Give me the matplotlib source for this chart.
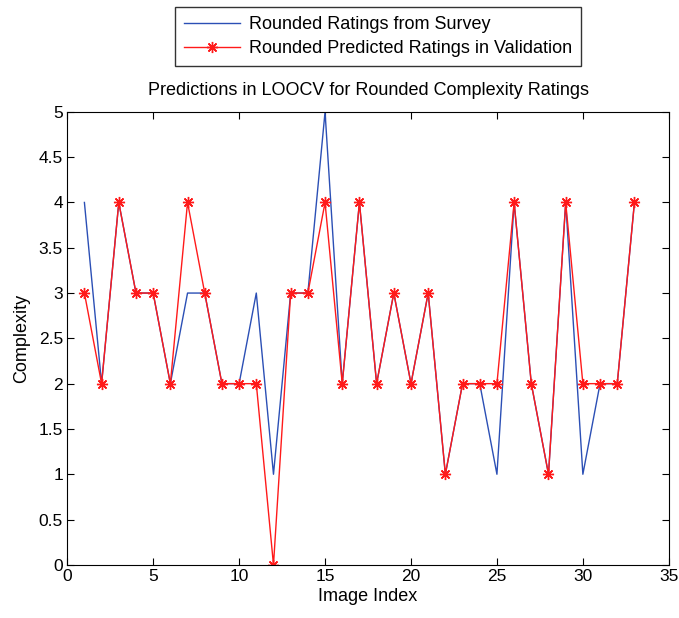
import matplotlib
matplotlib.use('Agg')
import matplotlib.pyplot as plt

plt.rcParams['font.family'] = ['Liberation Sans', 'DejaVu Sans']

# image index 1..33
image_index = list(range(1, 34))
survey_ratings = [4, 2, 4, 3, 3, 2, 3, 3, 2, 2, 3, 1, 3, 3, 5, 2, 4, 2, 3, 2, 3,
                  1, 2, 2, 1, 4, 2, 1, 4, 1, 2, 2, 4]
predicted_ratings = [3, 2, 4, 3, 3, 2, 4, 3, 2, 2, 2, 0, 3, 3, 4, 2, 4, 2, 3, 2, 3,
                     1, 2, 2, 2, 4, 2, 1, 4, 2, 2, 2, 4]
y_ticks = [0, 0.5, 1, 1.5, 2, 2.5, 3, 3.5, 4, 4.5, 5]
y_tick_labels = ['0', '0.5', '1', '1.5', '2', '2.5', '3', '3.5', '4', '4.5', '5']

fig = plt.figure(figsize=(6.79, 6.18), dpi=100)
ax = fig.add_axes([0.099, 0.086, 0.886, 0.733])

ax.plot(image_index, survey_ratings, color='#2b4fb5', linewidth=1.0,
        label='Rounded Ratings from Survey')
ax.plot(image_index, predicted_ratings, color='#ff1a1a', linewidth=1.0,
        marker=(8, 2, 0), markersize=8, markeredgewidth=1.0,
        label='Rounded Predicted Ratings in Validation')

ax.set_xlim(0, 35)
ax.set_ylim(0, 5)
ax.set_xticks(range(0, 36, 5))
ax.set_yticks(y_ticks)
ax.set_yticklabels(y_tick_labels)
ax.tick_params(direction='in', length=5, labelsize=12.5, top=True, right=True, pad=3)
ax.set_xlabel('Image Index', fontsize=13, labelpad=3)
ax.set_ylabel('Complexity', fontsize=13, labelpad=6)
ax.set_title('Predictions in LOOCV for Rounded Complexity Ratings', fontsize=13, pad=12)

leg = fig.legend(loc='upper center', bbox_to_anchor=(378 / 679, 1 - 7 / 618), fontsize=13,
                 frameon=True, fancybox=False, edgecolor='black', borderaxespad=0,
                 borderpad=0.5, handlelength=3.1, labelspacing=0.4, handletextpad=0.5)
leg.get_frame().set_linewidth(1.0)

fig.savefig('out.png', dpi=100)
